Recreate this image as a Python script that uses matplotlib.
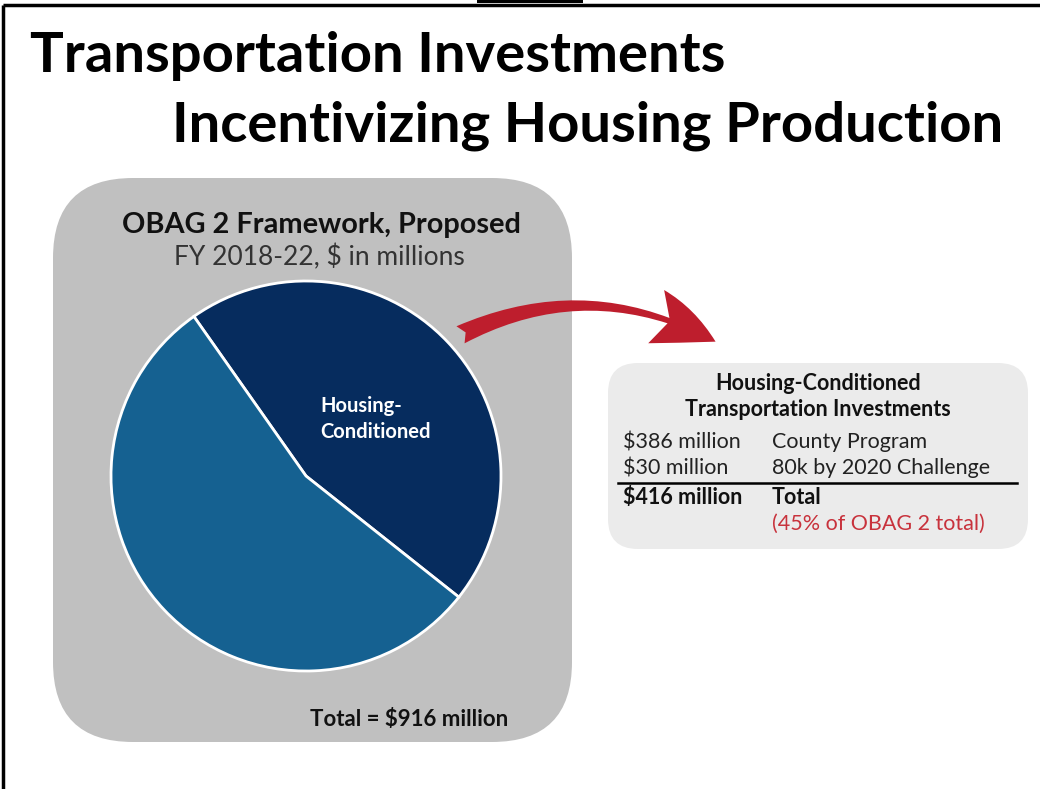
import matplotlib.pyplot as plt
from matplotlib.patches import FancyBboxPatch, FancyArrowPatch, Rectangle

# data
slice_labels = ['Housing-\nConditioned', '']
slice_values = [416, 500]   # $ millions, total 916
slice_colors = ['#062c5e', '#156191']

rows_amount = ['$386 million', '$30 million']
rows_name = ['County Program', '80k by 2020 Challenge']
total_amount = '$416 million'
total_share = '(45% of OBAG 2 total)'

W, H = 1040, 789
FONT = 'Lato'

fig = plt.figure(figsize=(W / 100, H / 100), dpi=100)
ax = fig.add_axes([0, 0, 1, 1])


def Y(y):
    # image pixel row -> data y
    return H - y


# frame lines
ax.plot([3, 3], [Y(5), Y(789)], color='black', lw=2.5, solid_capstyle='butt')
ax.plot([3, W], [Y(5), Y(5)], color='black', lw=2.5, solid_capstyle='butt')
ax.add_patch(Rectangle((477, Y(3)), 106, 3, color='black', lw=0))

# title
ax.text(30, Y(72), 'Transportation Investments', fontsize=40.5, fontweight='bold',
        family=FONT, va='baseline', ha='left')
ax.text(172, Y(141), 'Incentivizing Housing Production', fontsize=40.5, fontweight='bold',
        family=FONT, va='baseline', ha='left')

# grey panel
ax.add_patch(FancyBboxPatch((53 + 80, Y(742) + 80), 519 - 160, 564 - 160,
                            boxstyle='round,pad=80', fc='#c0c0c0', ec='none'))
ax.text(321, Y(233), 'OBAG 2 Framework, Proposed', fontsize=20.8, fontweight='bold',
        family=FONT, ha='center', va='baseline', color='#111111')
ax.text(319, Y(265), 'FY 2018-22, $ in millions', fontsize=19,
        family=FONT, ha='center', va='baseline', color='#333333')

# pie
wedges, _ = ax.pie(slice_values, colors=slice_colors, startangle=125.1, counterclock=False,
                   center=(306, Y(476)), radius=195, frame=True,
                   wedgeprops=dict(edgecolor='white', linewidth=2))
ax.text(320, Y(412), 'Housing-', fontsize=14.5, fontweight='bold', family=FONT,
        color='white', va='baseline', ha='left')
ax.text(320, Y(438), 'Conditioned', fontsize=14.5, fontweight='bold', family=FONT,
        color='white', va='baseline', ha='left')
ax.text(508, Y(726), 'Total = $916 million', fontsize=16, fontweight='bold', family=FONT,
        ha='right', va='baseline', color='#111111')

# arrow
ax.add_patch(FancyArrowPatch((458, Y(336)), (718, Y(343)),
                             connectionstyle='arc3,rad=-0.26',
                             arrowstyle='fancy,head_length=2.9,head_width=2.5,tail_width=0.85',
                             mutation_scale=16, fc='#be1e2d', ec='none'))

# right summary box
ax.add_patch(FancyBboxPatch((608 + 30, Y(549) + 30), 420 - 60, 186 - 60,
                            boxstyle='round,pad=30', fc='#ebebeb', ec='none'))
ax.text(818, Y(390), 'Housing-Conditioned', fontsize=15.5, fontweight='bold', family=FONT,
        ha='center', va='baseline', color='#111111')
ax.text(818, Y(416), 'Transportation Investments', fontsize=15.5, fontweight='bold', family=FONT,
        ha='center', va='baseline', color='#111111')
for i, (a, n) in enumerate(zip(rows_amount, rows_name)):
    yb = Y(448 + 26 * i)
    ax.text(623, yb, a, fontsize=15.5, family=FONT, va='baseline', color='#222222')
    ax.text(772, yb, n, fontsize=15.5, family=FONT, va='baseline', color='#222222')
ax.plot([618, 1017], [Y(483), Y(483)], color='black', lw=1.8)
ax.text(623, Y(504), total_amount, fontsize=15.5, fontweight='bold', family=FONT,
        va='baseline', color='#111111')
ax.text(772, Y(504), 'Total', fontsize=15.5, fontweight='bold', family=FONT,
        va='baseline', color='#111111')
ax.text(772, Y(530), total_share, fontsize=15.5, family=FONT, va='baseline', color='#c8323c')

ax.set_xlim(0, W)
ax.set_ylim(0, H)
ax.set_aspect('auto')
ax.axis('off')

fig.savefig('out.png', dpi=100)
